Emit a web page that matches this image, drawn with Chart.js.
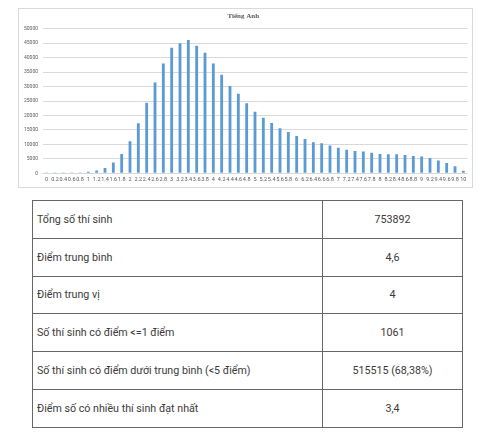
<!DOCTYPE html>
<html>
<head>
<meta charset="utf-8">
<script src="https://cdn.jsdelivr.net/npm/chart.js@4"></script>
<style>
    body { margin: 0; background: #fff; width: 500px; height: 433px; position: relative; overflow: hidden; }
    #chart-box { position: absolute; left: 18px; top: 8px; width: 455px; height: 180px; box-sizing: border-box; border: 1px solid #d9d9d9; }
    #stats { position: absolute; left: 32px; top: 200px; width: 431px; border-collapse: collapse; font-family: Roboto, sans-serif; font-size: 10.7px; color: #3a3a3a; }
    #stats td { border: 1.5px solid #666; height: 37.8px; padding: 0 4px; box-sizing: border-box; }
    #stats td.val { text-align: center; width: 140px; }
</style>
</head>
<body>
<div id="chart-box"><canvas id="score-chart"></canvas></div>
<table id="stats"></table>
<script>
const scores = ['0', '0.2', '0.4', '0.6', '0.8', '1', '1.2', '1.4', '1.6', '1.8',
    '2', '2.2', '2.4', '2.6', '2.8', '3', '3.2', '3.4', '3.6', '3.8',
    '4', '4.2', '4.4', '4.6', '4.8', '5', '5.2', '5.4', '5.6', '5.8',
    '6', '6.2', '6.4', '6.6', '6.8', '7', '7.2', '7.4', '7.6', '7.8',
    '8', '8.2', '8.4', '8.6', '8.8', '9', '9.2', '9.4', '9.6', '9.8', '10'];
const students = [280, 40, 50, 70, 120, 500, 1000, 1800, 3700, 6700,
    11100, 17300, 24400, 31400, 38000, 43400, 45000, 46100, 44100, 41700,
    38000, 34100, 30200, 27500, 24200, 21300, 19200, 17400, 15600, 14300,
    12900, 11900, 10700, 10400, 9600, 8800, 8100, 7700, 7500, 7100,
    6700, 6600, 6600, 6300, 6000, 5800, 5300, 4400, 3600, 2400, 900];

const statLabels = ['Tổng số thí sinh', 'Điểm trung bình', 'Điểm trung vị',
    'Số thí sinh có điểm <=1 điểm', 'Số thí sinh có điểm dưới trung bình (<5 điểm)',
    'Điểm số có nhiều thí sinh đạt nhất'];
const statValues = ['753892', '4,6', '4', '1061', '515515 (68,38%)', '3,4'];

const table = document.getElementById('stats');
statLabels.forEach((label, i) => {
    const row = table.insertRow();
    row.insertCell().textContent = label;
    const cell = row.insertCell();
    cell.className = 'val';
    cell.textContent = statValues[i];
});

const config = {
    type: 'bar',
    data: {
        labels: scores,
        datasets: [
            {
                label: 'Tiếng Anh',
                data: students,
                backgroundColor: '#5b9bd5',
                barPercentage: 0.34,
                categoryPercentage: 1.0
            }
        ]
    },
    options: {
        responsive: true,
        maintainAspectRatio: false,
        animation: false,
        layout: {
            padding: { left: 0, right: 4.5, top: 0, bottom: 0 }
        },
        plugins: {
            legend: { display: false },
            tooltip: { enabled: false },
            title: {
                display: true,
                text: 'Tiếng Anh',
                color: '#595959',
                font: { family: '"Liberation Serif", serif', size: 7, weight: 'bold' },
                padding: { top: 3.3, bottom: 8 }
            }
        },
        scales: {
            x: {
                grid: { display: false, drawTicks: false },
                border: { display: true, color: '#d9d9d9' },
                ticks: {
                    autoSkip: false,
                    maxRotation: 0,
                    minRotation: 0,
                    padding: 3,
                    color: '#595959',
                    font: { family: 'Roboto, sans-serif', size: 5.5 }
                },
                afterFit: (scale) => { scale.height = 13.7; }
            },
            y: {
                min: 0,
                max: 50000,
                grid: { color: '#d9d9d9', drawTicks: false },
                border: { display: false },
                ticks: {
                    stepSize: 5000,
                    padding: 4.5,
                    color: '#595959',
                    font: { family: 'Roboto, sans-serif', size: 5 },
                    callback: (v) => String(v)
                },
                afterFit: (scale) => { scale.width = 23.5; }
            }
        }
    }
};

var chart = new Chart(document.getElementById('score-chart'), config);
</script>
</body>
</html>
